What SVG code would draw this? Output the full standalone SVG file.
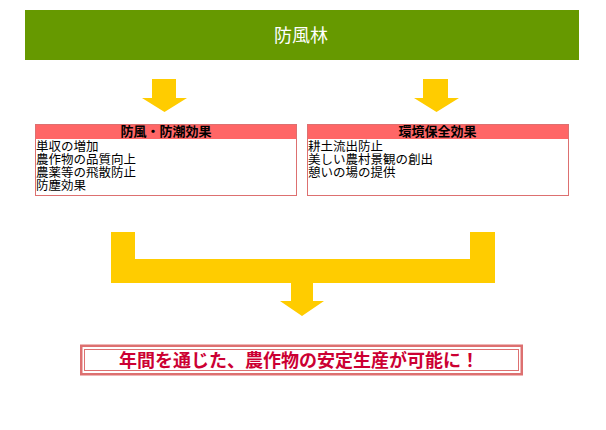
<svg xmlns="http://www.w3.org/2000/svg" width="606" height="430" viewBox="0 0 606 430">
<style>
.cjk{font-family:"Noto Sans CJK JP","Noto Sans CJK SC",sans-serif}
.box{fill:#fff;stroke:#dd7070;stroke-width:1}
.hdr{fill:#ff6666}
.ht{font-size:13px;font-weight:bold;fill:#000;text-anchor:middle}
.bt{font-size:12.5px;fill:#000}
.arrow{fill:#ffcc00}
</style>
<rect width="606" height="430" fill="#fff"/>
<g id="root">
<rect x="25" y="10" width="554" height="50" fill="#669900"/>
<text class="cjk" x="301" y="41.5" font-size="18" fill="#fff" text-anchor="middle">防風林</text>
</g>
<g id="connectors">
<polygon class="arrow" points="152,79 176,79 176,98 187,98 164.5,112 142,98 152,98"/>
<polygon class="arrow" points="423,79 448,79 448,98 459,98 436.5,112 414,98 423,98"/>
<polygon class="arrow" points="111,232 135,232 135,259 470,259 470,232 495,232 495,283 313,283 313,301 324,301 302,316 280,301 291,301 291,283 111,283"/>
</g>
<g id="box-left">
<rect class="box" x="35.5" y="124.5" width="261" height="71"/>
<rect class="hdr" x="36" y="125" width="260" height="14"/>
<text class="cjk ht" x="166" y="135.8">防風・防潮効果</text>
<text class="cjk bt"><tspan x="36" y="151">単収の増加</tspan><tspan x="36" y="164">農作物の品質向上</tspan><tspan x="36" y="177">農薬等の飛散防止</tspan><tspan x="36" y="190">防塵効果</tspan></text>
</g>
<g id="box-right">
<rect class="box" x="307.5" y="124.5" width="261" height="71"/>
<rect class="hdr" x="308" y="125" width="260" height="14"/>
<text class="cjk ht" x="437.5" y="135.8">環境保全効果</text>
<text class="cjk bt"><tspan x="308" y="151">耕土流出防止</tspan><tspan x="308" y="164">美しい農村景観の創出</tspan><tspan x="308" y="177">憩いの場の提供</tspan></text>
</g>
<g id="result">
<rect x="81.25" y="345.75" width="440.5" height="28.5" fill="#fff" stroke="#dd7070" stroke-width="2.5"/>
<rect x="84.5" y="349.5" width="434" height="21" fill="none" stroke="#dd7070" stroke-width="1"/>
<text class="cjk" x="299" y="366.5" font-size="18" font-weight="bold" fill="#cc0033" text-anchor="middle">年間を通じた、農作物の安定生産が可能に！</text>
</g>
</svg>
